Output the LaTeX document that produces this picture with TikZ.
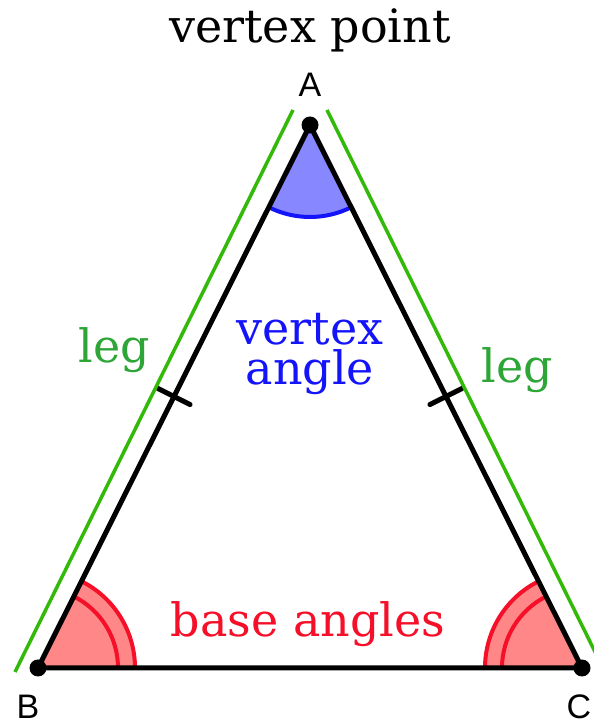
\documentclass[tikz,border=0pt]{standalone}
\usepackage{fontspec}
\setmainfont{DejaVu Serif}
\newfontfamily\ptfont{Liberation Sans}
\usetikzlibrary{calc}
\definecolor{leggreen}{RGB}{50,185,10}
\definecolor{legtext}{RGB}{45,165,55}
\definecolor{vblue}{RGB}{20,20,250}
\definecolor{vfillc}{RGB}{135,135,255}
\definecolor{bred}{RGB}{245,15,40}
\definecolor{bfillc}{RGB}{255,135,135}
\begin{document}
\begin{tikzpicture}[x=1pt,y=1pt,
  side/.style={line width=5pt,line cap=round},
  legline/.style={line width=3.5pt,draw=leggreen},
  arcline/.style={line width=4pt},
  word/.style={font=\fontsize{46}{40}\selectfont,anchor=base,inner sep=0pt},
  ptlabel/.style={font=\ptfont\fontsize{34}{36}\selectfont,anchor=base,inner sep=0pt},
  dot/.style={circle,fill=black,inner sep=0pt,minimum size=17pt}]
  \useasboundingbox (0,0) rectangle (594,726);
  \coordinate (A) at (310,601); % 頂点
  \coordinate (B) at (38,58);   % 左下
  \coordinate (C) at (582,58);  % 右下
  \fill[vfillc] (A) -- ++(243.4:92) arc[start angle=243.4,end angle=296.6,radius=92] -- cycle; % 頂角
  \draw[arcline,vblue] ($(A)+(243.4:92)$) arc[start angle=243.4,end angle=296.6,radius=92];
  \fill[bfillc] (B) -- ++(0:97) arc[start angle=0,end angle=63.4,radius=97] -- cycle; % 底角（左）
  \draw[arcline,bred] ($(B)+(0:97)$) arc[start angle=0,end angle=63.4,radius=97];
  \draw[arcline,bred] ($(B)+(0:80)$) arc[start angle=0,end angle=63.4,radius=80];
  \fill[bfillc] (C) -- ++(116.6:97) arc[start angle=116.6,end angle=180,radius=97] -- cycle; % 底角（右）
  \draw[arcline,bred] ($(C)+(116.6:97)$) arc[start angle=116.6,end angle=180,radius=97];
  \draw[arcline,bred] ($(C)+(116.6:80)$) arc[start angle=116.6,end angle=180,radius=80];
  \draw[side] (A) -- (B) -- (C) -- cycle; % 三角形
  \coordinate (mAB) at ($(A)!0.5!(B)$);
  \coordinate (mAC) at ($(A)!0.5!(C)$);
  \draw[side] ($(mAB)!18pt!90:(A)$) -- ($(mAB)!18pt!-90:(A)$); % 等辺の印
  \draw[side] ($(mAC)!18pt!90:(A)$) -- ($(mAC)!18pt!-90:(A)$);
  \node[dot] (dA) at (A) {};
  \node[dot] (dB) at (B) {};
  \node[dot] (dC) at (C) {};
  \coordinate (gl1) at (15,54);  % 左の脚
  \coordinate (gl2) at (293,616);
  \coordinate (gr1) at (327,616); % 右の脚
  \coordinate (gr2) at (605,54);
  \draw[legline] (gl1) -- (gl2);
  \draw[legline] (gr1) -- (gr2);
  \node[word] (title) at (310,683) {vertex point};
  \node[ptlabel] (lA) at (310,629) {A};
  \node[ptlabel] (lB) at (28,8) {B};
  \node[ptlabel] (lC) at (579,8) {C};
  \node[word,legtext] (legL) at (114,363) {leg};
  \node[word,legtext] (legR) at (517,343) {leg};
  \node[word,vblue,align=center] (vtx) at (310,341) {vertex\\angle};
  \node[word,bred] (base) at (308,89) {base angles};
\end{tikzpicture}
\end{document}
